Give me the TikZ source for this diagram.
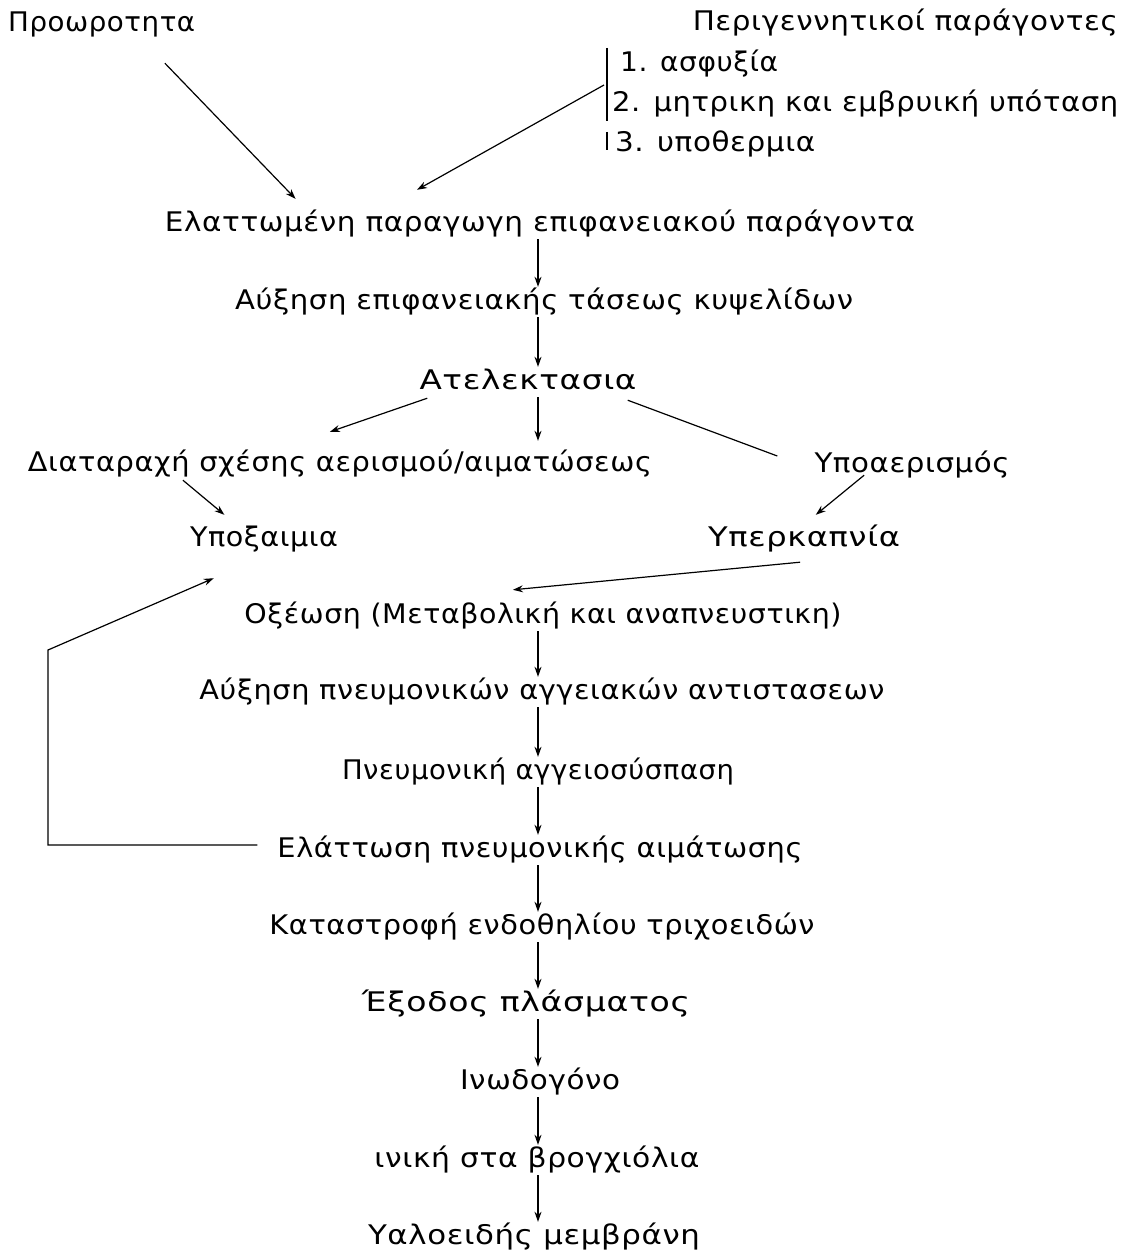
\documentclass[tikz,border=0pt]{standalone}
\usepackage{fontspec}
\usepackage{graphicx}
\usetikzlibrary{arrows.meta,calc}
\newfontfamily\grfont{DejaVu Sans}[LetterSpace=2]
\newcommand\fitw[2]{\resizebox{#1pt}{\height}{#2}}
\begin{document}
\begin{tikzpicture}[x=1pt,y=-1pt,
  lbl/.style={font=\grfont\fontsize{27}{30}\selectfont, inner sep=2pt, text height=20pt, text depth=6pt, anchor=base},
  arr/.style={-{Stealth[length=10pt,width=7pt]}, line width=1.2pt},
  ln/.style={line width=1.2pt}]
\fill[white] (0,0) rectangle (1125,1252);
\useasboundingbox (0,0) rectangle (1125,1252);
\coordinate (spine) at (538,0);
% top
\node[lbl,anchor=base west] (pro) at (6,32) {\fitw{187}{Προωροτητα}};
\node[lbl,anchor=base east] (peri) at (1120,31) {\fitw{425}{Περιγεννητικοί παράγοντες}};
\node[lbl,anchor=base west] (l1) at (618,72) {\fitw{158}{1. ασφυξία}};
\node[lbl,anchor=base west] (l2) at (610,112) {\fitw{506}{2. μητρικη και εμβρυική υπόταση}};
\node[lbl,anchor=base west] (l3) at (613,152) {\fitw{200}{3. υποθερμια}};
\coordinate (b1) at (607,48);
\coordinate (b2) at (607,121);
\coordinate (b3) at (607,132);
\coordinate (b4) at (607,150);
\coordinate (bA) at (604,85);
\draw[ln] (b1) -- (b2);
\draw[ln] (b3) -- (b4);
% main chain
\node[lbl] (ela) at (540,231) {\fitw{750}{Ελαττωμένη παραγωγη επιφανειακού παράγοντα}};
\node[lbl] (auxE) at (544,309) {\fitw{618}{Αύξηση επιφανειακής τάσεως κυψελίδων}};
\node[lbl] (atel) at (528,389) {\fitw{217}{Ατελεκτασια}};
\node[lbl] (diat) at (340,471) {\fitw{624}{Διαταραχή σχέσης αερισμού/αιματώσεως}};
\node[lbl] (hypoaer) at (912,472) {\fitw{195}{Υποαερισμός}};
\node[lbl] (hypox) at (264,546) {\fitw{148}{Υποξαιμια}};
\node[lbl] (hyperk) at (804,546) {\fitw{192}{Υπερκαπνία}};
\node[lbl] (oxe) at (543,623) {\fitw{597}{Οξέωση (Μεταβολική και αναπνευστικη)}};
\node[lbl] (auxP) at (542,699) {\fitw{685}{Αύξηση πνευμονικών αγγειακών αντιστασεων}};
\node[lbl] (pneu) at (538,779) {\fitw{392}{Πνευμονική αγγειοσύσπαση}};
\node[lbl] (elat) at (540,857) {\fitw{525}{Ελάττωση πνευμονικής αιμάτωσης}};
\node[lbl] (kata) at (542,934) {\fitw{545}{Καταστροφή ενδοθηλίου τριχοειδών}};
\node[lbl] (exo) at (526,1011) {\fitw{328}{Έξοδος πλάσματος}};
\node[lbl] (ino) at (540,1089) {\fitw{160}{Ινωδογόνο}};
\node[lbl] (ini) at (537,1167) {\fitw{325}{ινική στα βρογχιόλια}};
\node[lbl] (yal) at (534,1244) {\fitw{332}{Υαλοειδής μεμβράνη}};
% arrows into ela
\draw[arr] ($(pro.south west)!0.83!(pro.south east)+(0,23)$) -- ($(ela.north west)!0.176!(ela.north east)+(0,-10)$);
\draw[arr] (bA) -- ($(ela.north west)!0.337!(ela.north east)+(0,-19)$);
% vertical spine arrows
\draw[arr] (ela.south -| spine) -- (auxE.north -| spine);
\draw[arr] (auxE.south -| spine) -- (atel.north -| spine);
\draw[arr] (atel.south -| spine) -- ($(diat.north -| spine)+(0,-8)$);
\draw[arr] (oxe.south -| spine) -- (auxP.north -| spine);
\draw[arr] (auxP.south -| spine) -- (pneu.north -| spine);
\draw[arr] (pneu.south -| spine) -- (elat.north -| spine);
\draw[arr] (elat.south -| spine) -- (kata.north -| spine);
\draw[arr] (kata.south -| spine) -- (exo.north -| spine);
\draw[arr] (exo.south -| spine) -- (ino.north -| spine);
\draw[arr] (ino.south -| spine) -- (ini.north -| spine);
\draw[arr] (ini.south -| spine) -- (yal.north -| spine);
% branches
\draw[arr] ($(atel.south west)+(10,1)$) -- ($(diat.north west)!0.484!(diat.north east)+(0,-17)$);
\draw[ln] ($(atel.south east)+(-11,3)$) -- ($(hypoaer.west)+(-35,-9)$);
\draw[arr] ($(diat.south west)!0.25!(diat.south east)+(0,1)$) -- ($(hypox.north west)!0.24!(hypox.north east)+(0,-9)$);
\draw[arr] ($(hypoaer.south west)!0.26!(hypoaer.south east)+(0,-5)$) -- ($(hyperk.north west)!0.56!(hyperk.north east)+(0,-9)$);
\draw[arr] ($(hyperk.south west)!0.48!(hyperk.south east)+(0,8)$) -- ($(oxe.north west)!0.45!(oxe.north east)+(0,-11)$);
% feedback loop
\coordinate (fb1) at (48,845);
\coordinate (fb2) at (48,650);
\draw[arr] ($(elat.west)+(-18,-5)$) -- (fb1) -- (fb2) -- ($(hypox.south west)!0.17!(hypox.south east)+(0,24)$);
\end{tikzpicture}
\end{document}
